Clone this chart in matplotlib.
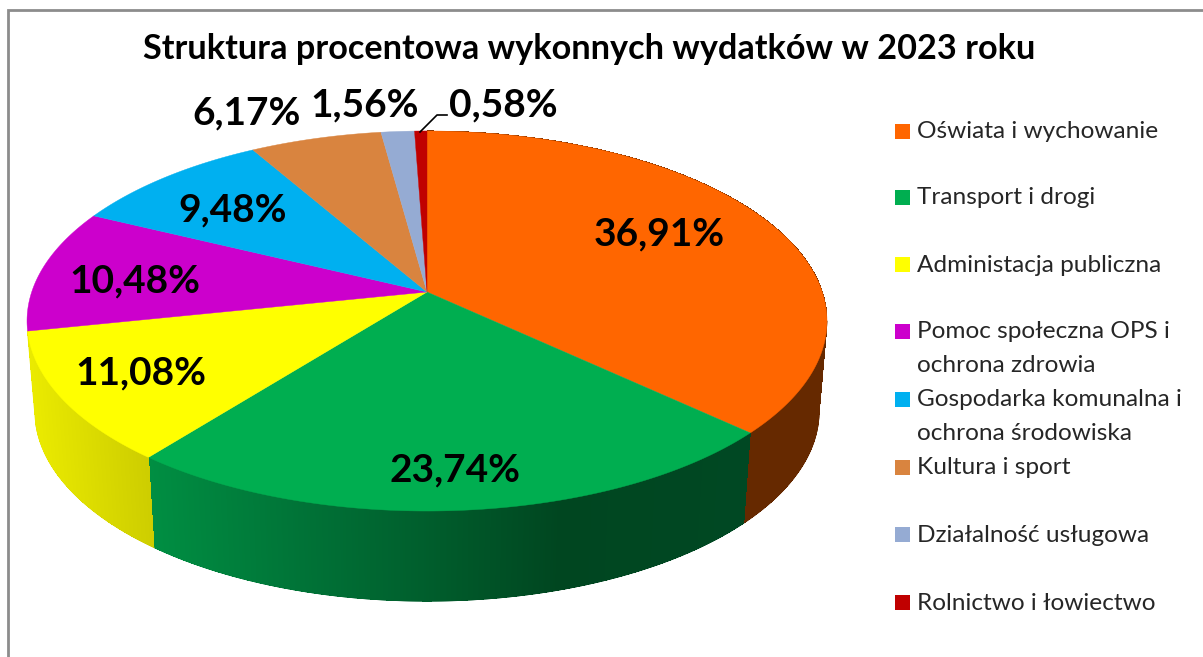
import numpy as np
import matplotlib
matplotlib.use("Agg")
from matplotlib import pyplot as plt
from matplotlib.collections import LineCollection
from matplotlib.patches import Polygon, Rectangle

plt.rcParams['font.family'] = ['Lato', 'DejaVu Sans']

title = "Struktura procentowa wykonnych wydatków w 2023 roku"
categories = ["Oświata i wychowanie", "Transport i drogi", "Administacja publiczna",
              "Pomoc społeczna OPS i\nochrona zdrowia", "Gospodarka komunalna i\nochrona środowiska",
              "Kultura i sport", "Działalność usługowa", "Rolnictwo i łowiectwo"]
values = [36.91, 23.74, 11.08, 10.48, 9.48, 6.17, 1.56, 0.58]
colors = ["#FF6600", "#00AE50", "#FFFF00", "#CC00CC", "#00B0F0", "#D9843F", "#95ABD3", "#C00000"]

# where things sit, in pixels of the 1203x657 picture
label_pos = [(659, 234), (455, 470), (141, 373), (135, 281), (233, 210), (247, 113), (365, 105), (503, 105)]
legend_y = [132, 198, 265, 348, 416, 468, 535, 603]
xc, yc = 427, 292
A, B, k = 395.3, 185.6, 0.1526   # perspective circle -> ellipse
depth, shrink = 90, 0.98

# side shading along x, (x, r, g, b)
side_shade = {
    0: [(745, 102, 41, 0), (830, 102, 41, 0)],
    1: [(150, 0, 142, 66), (300, 0, 115, 55), (420, 0, 95, 45), (560, 0, 70, 32), (750, 0, 72, 35)],
    2: [(30, 234, 234, 0), (150, 205, 205, 0)],
}


def project(a):
    # a in radians, clockwise from the top of the pie
    u, v = np.sin(a), np.cos(a)
    w = 1 + k * v
    return xc + A * u / w, yc - B * v / w


def bottom(x, y):
    return xc + (x - xc) * shrink, y + depth


fig = plt.figure(figsize=(12.03, 6.57), dpi=100)
ax = fig.add_axes([0, 0, 1, 1])
ax.set_xlim(0, 1203)
ax.set_ylim(657, 0)
ax.axis("off")

# frame, only left and top are in the crop
ax.plot([7.5, 7.5, 1203], [657, 10, 10], color="#8c8c8c", lw=2, solid_joinstyle="miter")

edges = np.cumsum([0] + values) / 100 * 2 * np.pi

# sides first, the top faces cover what is behind
# strips have no antialiasing so no seams show, the outer edge is smoothed by a line
segs = []
seg_colors = []
for i in side_shade:
    shade = np.array(side_shade[i], dtype=float)
    angles = np.linspace(edges[i], edges[i + 1], int(values[i] * 30) + 2)
    for a0, a1 in zip(angles[:-1], angles[1:]):
        x0, y0 = project(a0)
        x1, y1 = project(a1)
        c = [np.interp((x0 + x1) / 2, shade[:, 0], shade[:, j]) / 255 for j in (1, 2, 3)]
        ax.add_patch(Polygon([(x0, y0), (x1, y1), bottom(x1, y1), bottom(x0, y0)],
                             closed=True, facecolor=c, edgecolor="none", antialiased=False))
        # only the part below the top face shows
        segs.append([bottom(x0, y0), bottom(x1, y1)])
        seg_colors.append(c)
        # silhouette on the right and the end of the yellow side on the left
        if a0 <= np.arctan2(np.sqrt(1 - k * k), -k) < a1 or a1 == angles[-1] and i == 2:
            segs.append([(x1, y1), bottom(x1, y1)])
            seg_colors.append(c)
ax.add_collection(LineCollection(segs, colors=seg_colors, linewidths=0.8, capstyle="round", zorder=1))

# top faces
for i in range(len(values)):
    angles = np.linspace(edges[i], edges[i + 1], int(values[i] * 6) + 3)
    xs, ys = project(angles)
    pts = [(xc, yc)] + list(zip(xs, ys))
    ax.add_patch(Polygon(pts, closed=True, facecolor=colors[i], edgecolor=colors[i], lw=0.3))

# leader line of the smallest slice
ax.plot([420, 437, 447], [132, 115, 115], color="black", lw=1.2)

for v, (x, y) in zip(values, label_pos):
    ax.text(x, y, f"{v:.2f}%".replace(".", ","), ha="center", va="center",
            fontsize=28, fontweight="bold", color="black")

ax.text(589, 49, title, ha="center", va="center", fontsize=24.7, fontweight="bold", color="black")

# legend
for name, c, y in zip(categories, colors, legend_y):
    first_y = y - 16 if "\n" in name else y
    ax.add_patch(Rectangle((895, first_y - 8), 15, 15, facecolor=c, edgecolor="none"))
    for n, line in enumerate(name.split("\n")):
        ax.text(917, first_y + n * 33, line, ha="left", va="center", fontsize=17.6, color="#262626")

plt.savefig("out.png", dpi=100)
